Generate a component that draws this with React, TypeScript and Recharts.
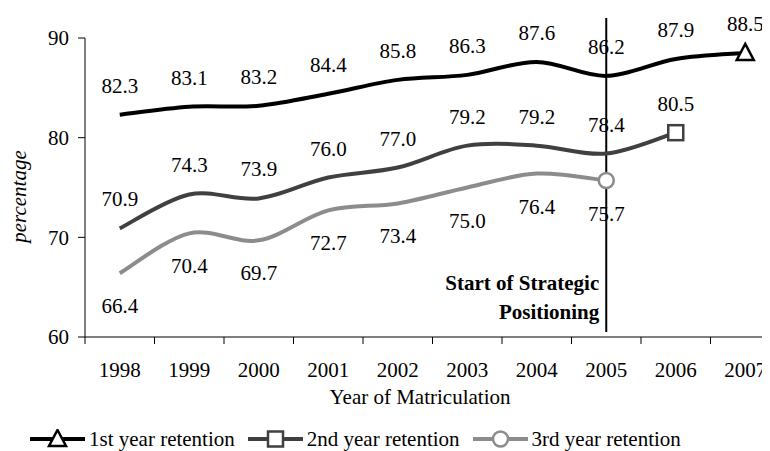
import React from 'react';
import { LineChart, Line, XAxis, YAxis, ReferenceLine, LabelList, Legend } from 'recharts';

// ---- data ----
const years = ['1998', '1999', '2000', '2001', '2002', '2003', '2004', '2005', '2006', '2007'];
const firstYear: (number | null)[] = [82.3, 83.1, 83.2, 84.4, 85.8, 86.3, 87.6, 86.2, 87.9, 88.5];
const secondYear: (number | null)[] = [70.9, 74.3, 73.9, 76.0, 77.0, 79.2, 79.2, 78.4, 80.5, null];
const thirdYear: (number | null)[] = [66.4, 70.4, 69.7, 72.7, 73.4, 75.0, 76.4, 75.7, null, null];
const yTicks = [60, 70, 80, 90];
const seriesNames = ['1st year retention', '2nd year retention', '3rd year retention'];
const strategyYear = '2005';
const strategyLabel = ['Start of Strategic', 'Positioning'];
const xTitle = 'Year of Matriculation';
const yTitle = 'percentage';

// ---- layout ----
const FONT = '"Liberation Serif", "Times New Roman", serif';
const FS = 21;
const CHART_W = 778;
const CHART_H = 443;
const Y_AXIS_W = 77;
const M = { top: 30, right: 6, left: 0, bottom: 0 };
const PLOT_W = CHART_W - Y_AXIS_W - M.left - M.right;
const HALF = PLOT_W / years.length / 2;
const TICK = 7;

const data = years.map((year, i) => ({
  year,
  first: firstYear[i],
  second: secondYear[i],
  third: thirdYear[i],
}));

// Excel-like smooth curve (Catmull-Rom as cubic Bezier)
const smoothCurve: any = (context: any) => {
  let pts: number[][] = [];
  return {
    areaStart() {},
    areaEnd() {},
    lineStart() {
      pts = [];
    },
    point(x: number, y: number) {
      pts.push([+x, +y]);
    },
    lineEnd() {
      const n = pts.length;
      if (!n) return;
      context.moveTo(pts[0][0], pts[0][1]);
      for (let i = 0; i < n - 1; i++) {
        const p0 = pts[Math.max(i - 1, 0)];
        const p1 = pts[i];
        const p2 = pts[i + 1];
        const p3 = pts[Math.min(i + 2, n - 1)];
        context.bezierCurveTo(
          p1[0] + (p2[0] - p0[0]) / 6,
          p1[1] + (p2[1] - p0[1]) / 6,
          p2[0] - (p3[0] - p1[0]) / 6,
          p2[1] - (p3[1] - p1[1]) / 6,
          p2[0],
          p2[1]
        );
      }
    },
  };
};

type Shape = 'triangle' | 'square' | 'circle';

const Marker = ({ shape, cx, cy, color }: { shape: Shape; cx: number; cy: number; color: string }) => {
  const sw = 2.5;
  if (shape === 'triangle') {
    return (
      <polygon
        points={`${cx},${cy - 9} ${cx + 8.5},${cy + 7} ${cx - 8.5},${cy + 7}`}
        fill="#fff"
        stroke={color}
        strokeWidth={sw}
        strokeLinejoin="miter"
      />
    );
  }
  if (shape === 'square') {
    return <rect x={cx - 7.5} y={cy - 7.5} width={15} height={15} fill="#fff" stroke={color} strokeWidth={sw} />;
  }
  return <circle cx={cx} cy={cy} r={7.5} fill="#fff" stroke={color} strokeWidth={sw} />;
};

const lastIndex = (vals: (number | null)[]) => {
  let idx = -1;
  vals.forEach((v, i) => {
    if (v != null) idx = i;
  });
  return idx;
};

const makeDot = (vals: (number | null)[], shape: Shape, color: string) => (props: any) => {
  const { cx, cy, index } = props;
  if (index !== lastIndex(vals) || cx == null || cy == null) return <g key={`n-${shape}-${index}`} />;
  return <Marker key={`m-${shape}-${index}`} shape={shape} cx={cx} cy={cy} color={color} />;
};

const series = [
  { key: 'first', name: seriesNames[0], vals: firstYear, color: '#000000', shape: 'triangle' as Shape, above: true },
  { key: 'second', name: seriesNames[1], vals: secondYear, color: '#404040', shape: 'square' as Shape, above: true },
  { key: 'third', name: seriesNames[2], vals: thirdYear, color: '#8c8c8c', shape: 'circle' as Shape, above: false },
];

const makeLabel = (above: boolean) => (props: any) => {
  const { x, y, value, index } = props;
  if (value == null || x == null || y == null) return null;
  return (
    <text
      key={`l-${index}`}
      x={x}
      y={above ? y - 22 : y + 40}
      textAnchor="middle"
      fontFamily={FONT}
      fontSize={FS}
      fill="#000"
    >
      {Number(value).toFixed(1)}
    </text>
  );
};

const XTick = (props: any) => {
  const { x, y, payload, index } = props;
  const axisY = y - TICK;
  const isLast = index === years.length - 1;
  return (
    <g>
      <line x1={x - HALF} x2={x - HALF} y1={axisY} y2={axisY + TICK} stroke="#000" strokeWidth={1} />
      {isLast && <line x1={x + HALF} x2={x + HALF} y1={axisY} y2={axisY + TICK} stroke="#000" strokeWidth={1} />}
      <text x={x} y={axisY + 40} textAnchor="middle" fontFamily={FONT} fontSize={FS} fill="#000">
        {payload.value}
      </text>
    </g>
  );
};

const XTitle = (props: any) => {
  const vb = props.viewBox || {};
  return (
    <text x={vb.x + 335} y={vb.y + 67} textAnchor="middle" fontFamily={FONT} fontSize={FS} fill="#000">
      {xTitle}
    </text>
  );
};

const YTitle = (props: any) => {
  const vb = props.viewBox || {};
  const cx = 12;
  const cy = vb.y + vb.height / 2 + 9;
  return (
    <text
      x={cx}
      y={cy}
      dy="0.3em"
      transform={`rotate(-90 ${cx} ${cy})`}
      textAnchor="middle"
      fontFamily={FONT}
      fontSize={FS}
      fontStyle="italic"
      fill="#000"
    >
      {yTitle}
    </text>
  );
};

const StrategyLabel = (props: any) => {
  const vb = props.viewBox || {};
  const x = (vb.x ?? vb.x1) - 7;
  const bottom = (vb.y ?? 0) + (vb.height ?? 0);
  return (
    <text textAnchor="end" fontFamily={FONT} fontSize={FS} fontWeight="bold" fill="#000">
      <tspan x={x} y={bottom - 42}>
        {strategyLabel[0]}
      </tspan>
      <tspan x={x} y={bottom - 13}>
        {strategyLabel[1]}
      </tspan>
    </text>
  );
};

const LegendContent = () => (
  <div
    style={{
      height: 44,
      boxSizing: 'border-box',
      paddingTop: 20,
      paddingLeft: 22,
      display: 'flex',
      alignItems: 'center',
      fontFamily: FONT,
      fontSize: FS,
      color: '#000',
      lineHeight: '24px',
    }}
  >
    {series.map((s) => (
      <div key={s.key} style={{ display: 'flex', alignItems: 'center', marginRight: 13, height: 24 }}>
        <svg width={55} height={20} style={{ display: 'block' }}>
          <line x1={0} x2={55} y1={10} y2={10} stroke={s.color} strokeWidth={4} />
          <Marker shape={s.shape} cx={27.5} cy={10} color={s.color} />
        </svg>
        <span style={{ marginLeft: 4, whiteSpace: 'nowrap' }}>{s.name}</span>
      </div>
    ))}
  </div>
);

export default function App() {
  return (
    <div style={{ width: 762, height: CHART_H, overflow: 'hidden' }}>
      <LineChart width={CHART_W} height={CHART_H} data={data} margin={M}>
        <XAxis
          dataKey="year"
          padding={{ left: HALF, right: HALF }}
          tickLine={false}
          tickSize={TICK}
          tickMargin={0}
          tick={<XTick />}
          axisLine={{ stroke: '#000', strokeWidth: 1 }}
          height={70}
          interval={0}
          label={<XTitle />}
        />
        <YAxis
          domain={[60, 90]}
          ticks={yTicks}
          width={Y_AXIS_W}
          tickSize={TICK}
          tickMargin={9}
          tickLine={{ stroke: '#000', strokeWidth: 1 }}
          axisLine={{ stroke: '#000', strokeWidth: 1 }}
          tick={{ fontFamily: FONT, fontSize: FS, fill: '#000' }}
          label={<YTitle />}
        />
        <Legend verticalAlign="bottom" align="left" content={<LegendContent />} wrapperStyle={{ left: 0, width: 762 }} />
        <ReferenceLine
          segment={[
            { x: strategyYear, y: 92 },
            { x: strategyYear, y: 60.5 },
          ]}
          ifOverflow="visible"
          stroke="#000"
          strokeWidth={2}
          label={<StrategyLabel />}
        />
        {series.map((s) => (
          <Line
            key={s.key}
            dataKey={s.key}
            name={s.name}
            type={smoothCurve}
            stroke={s.color}
            strokeWidth={4}
            dot={makeDot(s.vals, s.shape, s.color)}
            activeDot={false}
            isAnimationActive={false}
            connectNulls={false}
          >
            <LabelList dataKey={s.key} content={makeLabel(s.above)} />
          </Line>
        ))}
      </LineChart>
    </div>
  );
}
